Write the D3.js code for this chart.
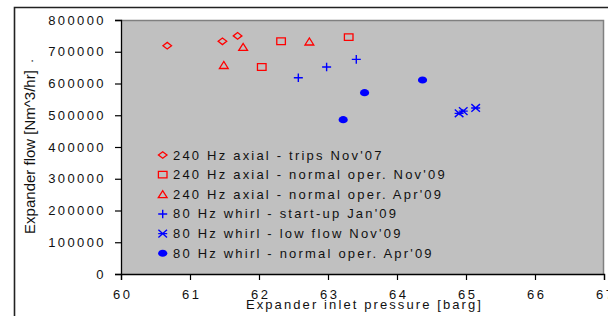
<!DOCTYPE html>
<html>
<head>
<meta charset="utf-8">
<script src="https://cdn.jsdelivr.net/npm/d3@7"></script>
<style>
  html, body { margin: 0; padding: 0; background: #ffffff; }
  svg { display: block; font-family: "Liberation Sans", Arial, sans-serif; }
</style>
</head>
<body>
<svg id="chart" width="608" height="316"></svg>
<script>
// ---- data ----
const xTicks = [60, 61, 62, 63, 64, 65, 66, 67];
const yTicks = [0, 100000, 200000, 300000, 400000, 500000, 600000, 700000, 800000];

const seriesNames = [
  "240 Hz axial - trips Nov'07",
  "240 Hz axial - normal oper. Nov'09",
  "240 Hz axial - normal oper. Apr'09",
  "80 Hz whirl - start-up Jan'09",
  "80 Hz whirl - low flow Nov'09",
  "80 Hz whirl - normal oper. Apr'09"
];
const seriesShapes = ["diamond", "square", "triangle", "plus", "asterisk", "circle"];
const seriesColors = ["#ff0000", "#ff0000", "#ff0000", "#0000ff", "#0000ff", "#0000ff"];

const tripsNov07   = [[60.67, 719000], [61.47, 733000], [61.69, 750000]];
const normalNov09  = [[62.04, 652000], [62.32, 733000], [63.30, 746000]];
const normalApr09A = [[61.49, 658000], [61.77, 715000], [62.73, 732000]];
const startupJan09 = [[62.57, 618000], [62.98, 652000], [63.41, 676000]];
const lowflowNov09 = [[64.90, 506000], [64.96, 513000], [65.14, 523000]];
const normalApr09W = [[63.22, 486000], [63.53, 571000], [64.37, 611000]];

const seriesData = [tripsNov07, normalNov09, normalApr09A, startupJan09, lowflowNov09, normalApr09W];

const xTitle = "Expander inlet pressure [barg]";
const yTitle = "Expander flow [Nm^3/hr]";

// ---- layout ----
const svg = d3.select("#chart");
const plot = { left: 121, right: 604, top: 20, bottom: 274 };

const x = d3.scaleLinear().domain([60, 67]).range([plot.left, plot.right]);
const y = d3.scaleLinear().domain([0, 800000]).range([plot.bottom, plot.top]);

// outer frame
svg.append("path")
  .attr("d", `M14.5,316 V7.5 H608`)
  .attr("fill", "none").attr("stroke", "#222").attr("stroke-width", 1.6);

// plot area
svg.append("rect")
  .attr("x", plot.left).attr("y", plot.top)
  .attr("width", plot.right - plot.left).attr("height", plot.bottom - plot.top)
  .attr("fill", "#c0c0c0");
svg.append("path")
  .attr("d", `M${plot.left},${plot.top + 0.5} H${plot.right - 0.5} V${plot.bottom}`)
  .attr("fill", "none").attr("stroke", "#808080").attr("stroke-width", 1.5);

// axes
const yAxis = d3.axisLeft(y).tickValues(yTicks).tickSize(6).tickPadding(9)
  .tickFormat(d3.format("d"));
const gy = svg.append("g").attr("transform", `translate(${plot.left},0)`).call(yAxis);
const xAxis = d3.axisBottom(x).tickValues(xTicks).tickSize(6).tickPadding(10)
  .tickFormat(d3.format("d"));
const gx = svg.append("g").attr("transform", `translate(0,${plot.bottom})`).call(xAxis);

[gx, gy].forEach(g => {
  g.select(".domain").attr("stroke", "#000").attr("stroke-width", 1.3);
  g.selectAll(".tick line").attr("stroke", "#000").attr("stroke-width", 1.2);
  g.selectAll(".tick text")
    .attr("fill", "#111").style("font-size", "13px").style("letter-spacing", "2.4px")
    .style("font-family", "'Liberation Sans', Arial, sans-serif");
});
gx.selectAll(".tick text").attr("dx", "1.2px");

// titles
svg.append("text")
  .attr("x", (plot.left + plot.right) / 2 + 2).attr("y", 309)
  .attr("text-anchor", "middle")
  .style("font-size", "13px").style("letter-spacing", "2.1px").attr("fill", "#111")
  .text(xTitle);

svg.append("text")
  .attr("transform", `translate(35,152) rotate(-90)`)
  .attr("text-anchor", "middle")
  .style("font-size", "15px").attr("fill", "#111")
  .text(yTitle);
svg.append("text")
  .attr("transform", `translate(33,61) rotate(-90)`)
  .attr("text-anchor", "middle")
  .style("font-size", "13px").attr("fill", "#111")
  .text(".");

// marker shapes
function shapePath(shape) {
  switch (shape) {
    case "diamond":  return "M-4.3,0 L0,-3.3 L4.3,0 L0,3.3 Z";
    case "square":   return "M-4.3,-3.3 H4.3 V3.3 H-4.3 Z";
    case "triangle": return "M-4.4,3.4 L0,-3.6 L4.4,3.4 Z";
    case "plus":     return "M-4.5,0 H4.5 M0,-4.3 V4.3";
    case "asterisk": return "M-4.3,-3.8 L4.3,3.8 M-4.3,3.8 L4.3,-3.8 M-4.5,0 H4.5";
    default: return "";
  }
}
function drawMarker(g, shape, color) {
  if (shape === "circle") {
    g.append("ellipse").attr("rx", 4.6).attr("ry", 3.6).attr("fill", color);
  } else {
    g.append("path").attr("d", shapePath(shape))
      .attr("fill", "none").attr("stroke", color)
      .attr("stroke-width", shape === "plus" || shape === "asterisk" ? 1.4 : 1.3);
  }
}

// data points
seriesData.forEach((pts, i) => {
  const grp = svg.append("g");
  grp.selectAll("g").data(pts).join("g")
    .attr("transform", d => `translate(${x(d[0])},${y(d[1])})`)
    .each(function () { drawMarker(d3.select(this), seriesShapes[i], seriesColors[i]); });
});

// legend
const legend = svg.append("g");
seriesNames.forEach((name, i) => {
  const cy = 155 + i * 19.65;
  const m = legend.append("g").attr("transform", `translate(162.7,${cy})`);
  drawMarker(m, seriesShapes[i], seriesColors[i]);
  legend.append("text")
    .attr("x", 173).attr("y", cy + 4.5)
    .style("font-size", "13px").style("letter-spacing", "2.2px").attr("fill", "#111")
    .text(name);
});
</script>
</body>
</html>
